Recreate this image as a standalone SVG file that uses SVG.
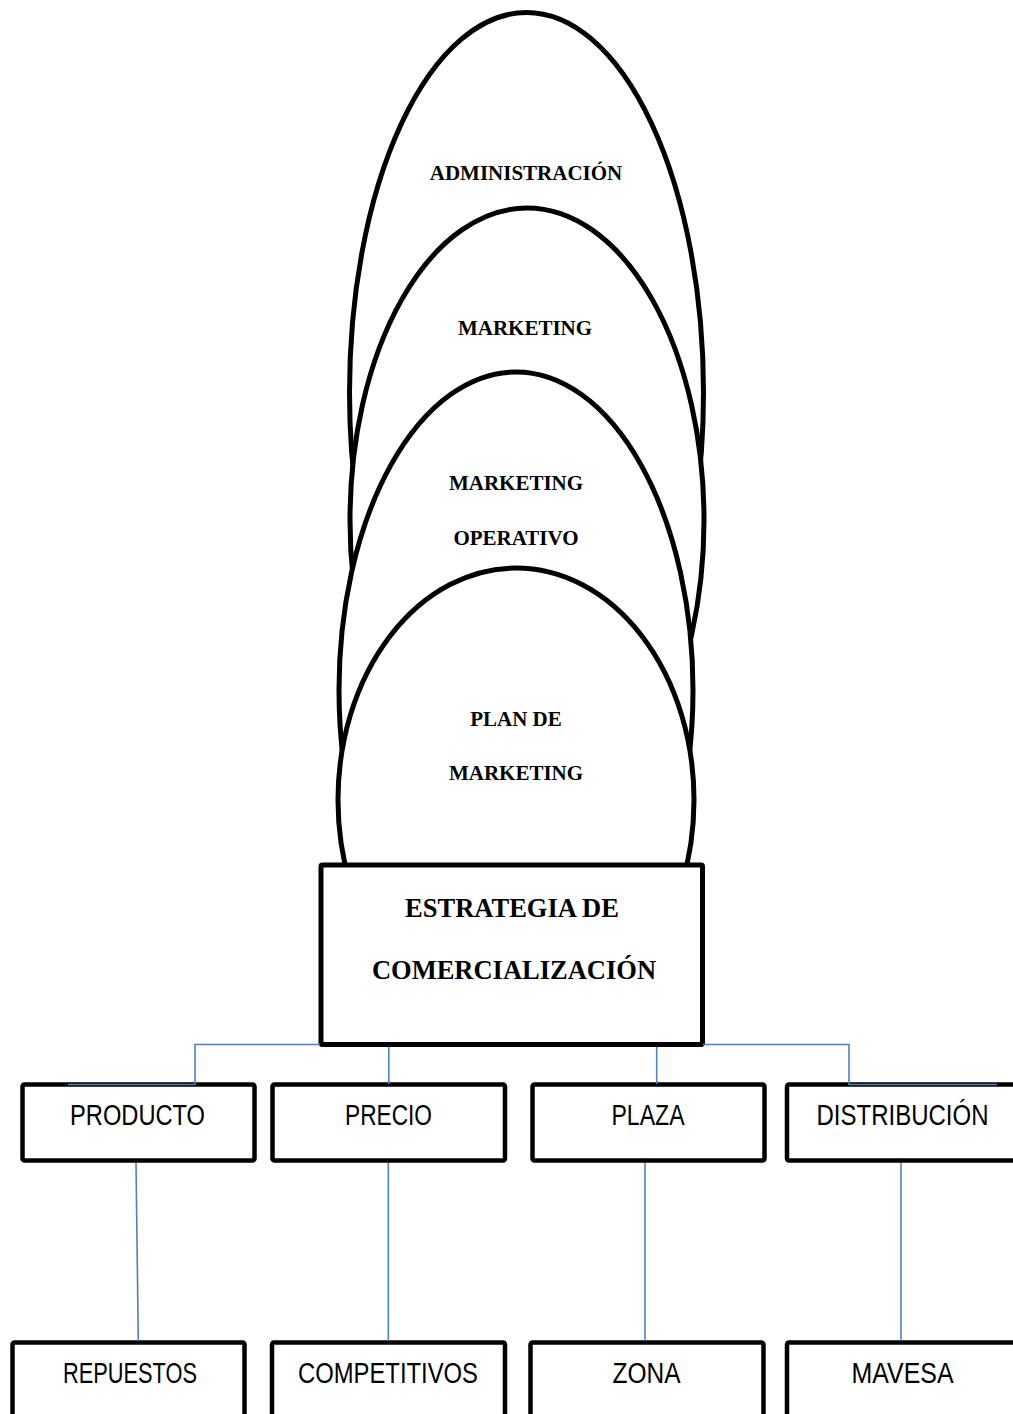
<svg xmlns="http://www.w3.org/2000/svg" width="1013" height="1414" viewBox="0 0 1013 1414">
<style>
.oval{fill:#fff;stroke:#000;stroke-width:5}
.box{fill:#fff;stroke:#000;stroke-width:4.5;stroke-linejoin:round}
.main{fill:#fff;stroke:#000;stroke-width:5;stroke-linejoin:round}
.t1{font-family:"Liberation Serif","Times New Roman",serif;font-weight:bold;font-size:21px;text-anchor:middle;fill:#000}
.t2{font-family:"Liberation Serif","Times New Roman",serif;font-weight:bold;font-size:26.5px;text-anchor:middle;fill:#000}
.t3{font-family:"Liberation Sans Narrow","Liberation Sans",Arial,sans-serif;font-size:29px;text-anchor:middle;fill:#000}
.conn{fill:none;stroke:#4f81bd;stroke-width:1.6}
</style>
<rect width="1013" height="1414" fill="#fff"/>
<g id="administracion">
<ellipse class="oval" cx="526.5" cy="392.5" rx="177" ry="380"/>
<text class="t1" x="526" y="180">ADMINISTRACIÓN</text>
</g>
<g id="marketing">
<ellipse class="oval" cx="527" cy="520" rx="177" ry="312"/>
<text class="t1" x="525" y="335">MARKETING</text>
</g>
<g id="marketing-operativo">
<ellipse class="oval" cx="516" cy="690" rx="177" ry="318"/>
<text class="t1" x="516" y="490">MARKETING</text>
<text class="t1" x="516" y="545">OPERATIVO</text>
</g>
<g id="plan-de-marketing">
<ellipse class="oval" cx="516" cy="800" rx="178" ry="232"/>
<text class="t1" x="516" y="726">PLAN DE</text>
<text class="t1" x="516" y="780">MARKETING</text>
</g>
<g id="estrategia">
<rect class="main" x="321" y="865" width="381.5" height="179.5" rx="1.5"/>
<text class="t2" x="512" y="917">ESTRATEGIA DE</text>
<text class="t2" x="514" y="979">COMERCIALIZACIÓN</text>
</g>
<g id="producto">
<rect class="box" x="22.5" y="1084.5" width="232" height="76" rx="2"/>
<text class="t3" x="137.5" y="1125" textLength="135" lengthAdjust="spacingAndGlyphs">PRODUCTO</text>
</g>
<g id="precio">
<rect class="box" x="272.5" y="1084.5" width="232.5" height="76" rx="2"/>
<text class="t3" x="388.5" y="1125" textLength="87" lengthAdjust="spacingAndGlyphs">PRECIO</text>
</g>
<g id="plaza">
<rect class="box" x="532.5" y="1084.5" width="232" height="76" rx="2"/>
<text class="t3" x="648" y="1125" textLength="73" lengthAdjust="spacingAndGlyphs">PLAZA</text>
</g>
<g id="distribucion">
<rect class="box" x="787" y="1084.5" width="240" height="76" rx="2"/>
<text class="t3" x="902.5" y="1125" textLength="172" lengthAdjust="spacingAndGlyphs">DISTRIBUCIÓN</text>
</g>
<g id="repuestos">
<rect class="box" x="12.5" y="1342.5" width="232" height="100" rx="2"/>
<text class="t3" x="130" y="1383" textLength="134" lengthAdjust="spacingAndGlyphs">REPUESTOS</text>
</g>
<g id="competitivos">
<rect class="box" x="272" y="1342.5" width="233" height="100" rx="2"/>
<text class="t3" x="388" y="1383" textLength="180" lengthAdjust="spacingAndGlyphs">COMPETITIVOS</text>
</g>
<g id="zona">
<rect class="box" x="530.5" y="1342.5" width="233" height="100" rx="2"/>
<text class="t3" x="646.5" y="1383" textLength="68" lengthAdjust="spacingAndGlyphs">ZONA</text>
</g>
<g id="mavesa">
<rect class="box" x="787" y="1342.5" width="240" height="100" rx="2"/>
<text class="t3" x="902.5" y="1383" textLength="102" lengthAdjust="spacingAndGlyphs">MAVESA</text>
</g>
<g id="connectors">
<polyline class="conn" points="320,1044.5 195,1044.5 195,1084.5 68,1084.5"/>
<line class="conn" x1="388.8" y1="1047" x2="388.8" y2="1084"/>
<line class="conn" x1="656.7" y1="1047" x2="656.7" y2="1084"/>
<polyline class="conn" points="703,1044.5 849,1044.5 849,1084.5 997,1084.5"/>
<line class="conn" x1="136" y1="1163" x2="138.3" y2="1341"/>
<line class="conn" x1="388.3" y1="1163" x2="388.3" y2="1341"/>
<line class="conn" x1="645" y1="1163" x2="645" y2="1341"/>
<line class="conn" x1="901" y1="1163" x2="901" y2="1341"/>
</g>
</svg>
